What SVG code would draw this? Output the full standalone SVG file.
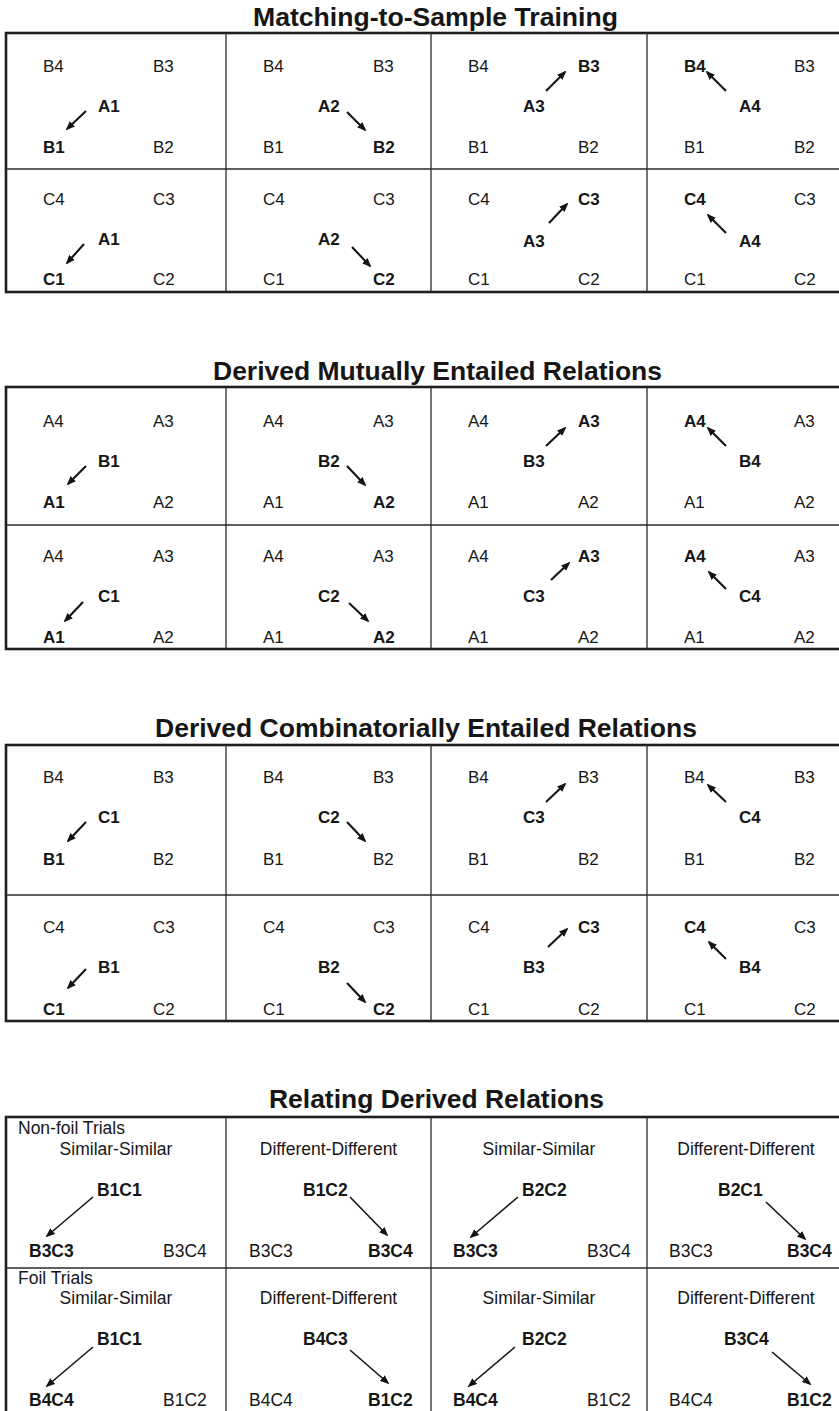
<svg xmlns="http://www.w3.org/2000/svg" width="839" height="1411" viewBox="0 0 839 1411">
<style>
text{font-family:"Liberation Sans",Arial,Helvetica,sans-serif;fill:#161616}
.t{font-size:17px}
.s{font-size:17.5px}
.b{font-weight:bold}
.m{text-anchor:middle}
.h{font-size:26px;font-weight:bold;text-anchor:middle}
.frame{fill:none;stroke:#1e1e1e;stroke-width:2.6}
.grid{stroke:#2a2a2a;stroke-width:1.3;fill:none}
.arr{stroke:#141414;stroke-width:2.1;fill:none;marker-end:url(#ah)}
.arr2{stroke:#141414;stroke-width:1.6;fill:none;marker-end:url(#ah)}
</style>
<defs>
<marker id="ah" viewBox="0 0 10 8" refX="8" refY="4" markerWidth="9.5" markerHeight="7.5" markerUnits="userSpaceOnUse" orient="auto">
<path d="M0,0 L10,4 L0,8 z" fill="#141414"/>
</marker>
</defs>
<rect width="839" height="1411" fill="#ffffff"/>

<!-- Section 1 -->
<g id="section1">
<text class="h" x="435.5" y="26" textLength="365" lengthAdjust="spacingAndGlyphs">Matching-to-Sample Training</text>
<rect class="frame" x="6" y="33" width="850" height="259"/>
<line class="grid" x1="6" y1="169" x2="850" y2="169"/>
<line class="grid" x1="226" y1="33" x2="226" y2="292"/>
<line class="grid" x1="431" y1="33" x2="431" y2="292"/>
<line class="grid" x1="647" y1="33" x2="647" y2="292"/>
</g>
<g id="s1r1c1" class="t"><text x="43" y="72">B4</text><text x="153" y="72">B3</text><text class="b" x="98" y="112">A1</text><text class="b" x="43" y="153">B1</text><text x="153" y="153">B2</text></g>
<g id="s1r1c2" class="t"><text x="263" y="72">B4</text><text x="373" y="72">B3</text><text class="b" x="318" y="112">A2</text><text x="263" y="153">B1</text><text class="b" x="373" y="153">B2</text></g>
<g id="s1r1c3" class="t"><text x="468" y="72">B4</text><text class="b" x="578" y="72">B3</text><text class="b" x="523" y="112">A3</text><text x="468" y="153">B1</text><text x="578" y="153">B2</text></g>
<g id="s1r1c4" class="t"><text class="b" x="684" y="72">B4</text><text x="794" y="72">B3</text><text class="b" x="739" y="112">A4</text><text x="684" y="153">B1</text><text x="794" y="153">B2</text></g>
<g id="s1r2c1" class="t"><text x="43" y="205">C4</text><text x="153" y="205">C3</text><text class="b" x="98" y="245">A1</text><text class="b" x="43" y="285">C1</text><text x="153" y="285">C2</text></g>
<g id="s1r2c2" class="t"><text x="263" y="205">C4</text><text x="373" y="205">C3</text><text class="b" x="318" y="245">A2</text><text x="263" y="285">C1</text><text class="b" x="373" y="285">C2</text></g>
<g id="s1r2c3" class="t"><text x="468" y="205">C4</text><text class="b" x="578" y="205">C3</text><text class="b" x="523" y="247">A3</text><text x="468" y="285">C1</text><text x="578" y="285">C2</text></g>
<g id="s1r2c4" class="t"><text class="b" x="684" y="205">C4</text><text x="794" y="205">C3</text><text class="b" x="739" y="247">A4</text><text x="684" y="285">C1</text><text x="794" y="285">C2</text></g>

<!-- Section 2 -->
<g id="section2">
<text class="h" x="437.5" y="380" textLength="449" lengthAdjust="spacingAndGlyphs">Derived Mutually Entailed Relations</text>
<rect class="frame" x="6" y="387" width="850" height="262"/>
<line class="grid" x1="6" y1="525" x2="850" y2="525"/>
<line class="grid" x1="226" y1="387" x2="226" y2="649"/>
<line class="grid" x1="431" y1="387" x2="431" y2="649"/>
<line class="grid" x1="647" y1="387" x2="647" y2="649"/>
</g>
<g id="s2r1c1" class="t"><text x="43" y="427">A4</text><text x="153" y="427">A3</text><text class="b" x="98" y="467">B1</text><text class="b" x="43" y="508">A1</text><text x="153" y="508">A2</text></g>
<g id="s2r1c2" class="t"><text x="263" y="427">A4</text><text x="373" y="427">A3</text><text class="b" x="318" y="467">B2</text><text x="263" y="508">A1</text><text class="b" x="373" y="508">A2</text></g>
<g id="s2r1c3" class="t"><text x="468" y="427">A4</text><text class="b" x="578" y="427">A3</text><text class="b" x="523" y="467">B3</text><text x="468" y="508">A1</text><text x="578" y="508">A2</text></g>
<g id="s2r1c4" class="t"><text class="b" x="684" y="427">A4</text><text x="794" y="427">A3</text><text class="b" x="739" y="467">B4</text><text x="684" y="508">A1</text><text x="794" y="508">A2</text></g>
<g id="s2r2c1" class="t"><text x="43" y="562">A4</text><text x="153" y="562">A3</text><text class="b" x="98" y="602">C1</text><text class="b" x="43" y="643">A1</text><text x="153" y="643">A2</text></g>
<g id="s2r2c2" class="t"><text x="263" y="562">A4</text><text x="373" y="562">A3</text><text class="b" x="318" y="602">C2</text><text x="263" y="643">A1</text><text class="b" x="373" y="643">A2</text></g>
<g id="s2r2c3" class="t"><text x="468" y="562">A4</text><text class="b" x="578" y="562">A3</text><text class="b" x="523" y="602">C3</text><text x="468" y="643">A1</text><text x="578" y="643">A2</text></g>
<g id="s2r2c4" class="t"><text class="b" x="684" y="562">A4</text><text x="794" y="562">A3</text><text class="b" x="739" y="602">C4</text><text x="684" y="643">A1</text><text x="794" y="643">A2</text></g>

<!-- Section 3 -->
<g id="section3">
<text class="h" x="426" y="737" textLength="542" lengthAdjust="spacingAndGlyphs">Derived Combinatorially Entailed Relations</text>
<rect class="frame" x="6" y="745" width="850" height="276"/>
<line class="grid" x1="6" y1="895" x2="850" y2="895"/>
<line class="grid" x1="226" y1="745" x2="226" y2="1021"/>
<line class="grid" x1="431" y1="745" x2="431" y2="1021"/>
<line class="grid" x1="647" y1="745" x2="647" y2="1021"/>
</g>
<g id="s3r1c1" class="t"><text x="43" y="783">B4</text><text x="153" y="783">B3</text><text class="b" x="98" y="823">C1</text><text class="b" x="43" y="865">B1</text><text x="153" y="865">B2</text></g>
<g id="s3r1c2" class="t"><text x="263" y="783">B4</text><text x="373" y="783">B3</text><text class="b" x="318" y="823">C2</text><text x="263" y="865">B1</text><text x="373" y="865">B2</text></g>
<g id="s3r1c3" class="t"><text x="468" y="783">B4</text><text x="578" y="783">B3</text><text class="b" x="523" y="823">C3</text><text x="468" y="865">B1</text><text x="578" y="865">B2</text></g>
<g id="s3r1c4" class="t"><text x="684" y="783">B4</text><text x="794" y="783">B3</text><text class="b" x="739" y="823">C4</text><text x="684" y="865">B1</text><text x="794" y="865">B2</text></g>
<g id="s3r2c1" class="t"><text x="43" y="933">C4</text><text x="153" y="933">C3</text><text class="b" x="98" y="973">B1</text><text class="b" x="43" y="1015">C1</text><text x="153" y="1015">C2</text></g>
<g id="s3r2c2" class="t"><text x="263" y="933">C4</text><text x="373" y="933">C3</text><text class="b" x="318" y="973">B2</text><text x="263" y="1015">C1</text><text class="b" x="373" y="1015">C2</text></g>
<g id="s3r2c3" class="t"><text x="468" y="933">C4</text><text class="b" x="578" y="933">C3</text><text class="b" x="523" y="973">B3</text><text x="468" y="1015">C1</text><text x="578" y="1015">C2</text></g>
<g id="s3r2c4" class="t"><text class="b" x="684" y="933">C4</text><text x="794" y="933">C3</text><text class="b" x="739" y="973">B4</text><text x="684" y="1015">C1</text><text x="794" y="1015">C2</text></g>

<!-- Section 4 -->
<g id="section4">
<text class="h" x="436.5" y="1108" textLength="335" lengthAdjust="spacingAndGlyphs">Relating Derived Relations</text>
<rect class="frame" x="6" y="1117" width="850" height="320"/>
<line class="grid" x1="6" y1="1268" x2="850" y2="1268"/>
<line class="grid" x1="226" y1="1117" x2="226" y2="1420"/>
<line class="grid" x1="431" y1="1117" x2="431" y2="1420"/>
<line class="grid" x1="647" y1="1117" x2="647" y2="1420"/>
<text class="s" x="18" y="1134">Non-foil Trials</text>
<text class="s" x="18" y="1284">Foil Trials</text>
</g>
<g id="s4r1c1" class="s"><text class="m" x="116" y="1155">Similar-Similar</text><text class="b" x="97" y="1196">B1C1</text><text class="b" x="29" y="1257">B3C3</text><text x="163" y="1257">B3C4</text></g>
<g id="s4r1c2" class="s"><text class="m" x="328.5" y="1155">Different-Different</text><text class="b" x="303" y="1196">B1C2</text><text x="249" y="1257">B3C3</text><text class="b" x="368" y="1257">B3C4</text></g>
<g id="s4r1c3" class="s"><text class="m" x="539" y="1155">Similar-Similar</text><text class="b" x="522" y="1196">B2C2</text><text class="b" x="453" y="1257">B3C3</text><text x="587" y="1257">B3C4</text></g>
<g id="s4r1c4" class="s"><text class="m" x="746" y="1155">Different-Different</text><text class="b" x="718" y="1196">B2C1</text><text x="669" y="1257">B3C3</text><text class="b" x="787" y="1257">B3C4</text></g>
<g id="s4r2c1" class="s"><text class="m" x="116" y="1304">Similar-Similar</text><text class="b" x="97" y="1345">B1C1</text><text class="b" x="29" y="1406">B4C4</text><text x="163" y="1406">B1C2</text></g>
<g id="s4r2c2" class="s"><text class="m" x="328.5" y="1304">Different-Different</text><text class="b" x="303" y="1345">B4C3</text><text x="249" y="1406">B4C4</text><text class="b" x="368" y="1406">B1C2</text></g>
<g id="s4r2c3" class="s"><text class="m" x="539" y="1304">Similar-Similar</text><text class="b" x="522" y="1345">B2C2</text><text class="b" x="453" y="1406">B4C4</text><text x="587" y="1406">B1C2</text></g>
<g id="s4r2c4" class="s"><text class="m" x="746" y="1304">Different-Different</text><text class="b" x="724" y="1345">B3C4</text><text x="669" y="1406">B4C4</text><text class="b" x="787" y="1406">B1C2</text></g>

<g id="connectors">
<line class="arr" x1="86" y1="111" x2="67" y2="129"/>
<line class="arr" x1="347" y1="112" x2="365" y2="130"/>
<line class="arr" x1="546" y1="91" x2="565" y2="72"/>
<line class="arr" x1="726" y1="91" x2="707" y2="72"/>
<line class="arr" x1="84" y1="244" x2="67" y2="263"/>
<line class="arr" x1="352" y1="247" x2="370" y2="266"/>
<line class="arr" x1="549" y1="223" x2="567" y2="204"/>
<line class="arr" x1="726" y1="233" x2="708" y2="215"/>

<line class="arr" x1="86" y1="466" x2="68" y2="484"/>
<line class="arr" x1="347" y1="466" x2="365" y2="485"/>
<line class="arr" x1="546" y1="446" x2="565" y2="428"/>
<line class="arr" x1="726" y1="446" x2="708" y2="428"/>
<line class="arr" x1="83" y1="602" x2="65" y2="621"/>
<line class="arr" x1="349" y1="603" x2="368" y2="621"/>
<line class="arr" x1="551" y1="580" x2="569" y2="563"/>
<line class="arr" x1="726" y1="589" x2="709" y2="572"/>

<line class="arr" x1="86" y1="822" x2="68" y2="841"/>
<line class="arr" x1="347" y1="822" x2="365" y2="841"/>
<line class="arr" x1="546" y1="802" x2="565" y2="784"/>
<line class="arr" x1="726" y1="802" x2="708" y2="785"/>
<line class="arr" x1="86" y1="969" x2="68" y2="988"/>
<line class="arr" x1="347" y1="983" x2="365" y2="1002"/>
<line class="arr" x1="548" y1="947" x2="567" y2="929"/>
<line class="arr" x1="726" y1="959" x2="709" y2="942"/>

<line class="arr2" x1="93" y1="1197" x2="47" y2="1236"/>
<line class="arr2" x1="350" y1="1197" x2="387" y2="1235"/>
<line class="arr2" x1="518" y1="1197" x2="471" y2="1237"/>
<line class="arr2" x1="766" y1="1202" x2="805" y2="1239"/>
<line class="arr2" x1="93" y1="1347" x2="47" y2="1386"/>
<line class="arr2" x1="350" y1="1350" x2="388" y2="1383"/>
<line class="arr2" x1="515" y1="1347" x2="469" y2="1386"/>
<line class="arr2" x1="772" y1="1352" x2="810" y2="1384"/>
</g>
</svg>
